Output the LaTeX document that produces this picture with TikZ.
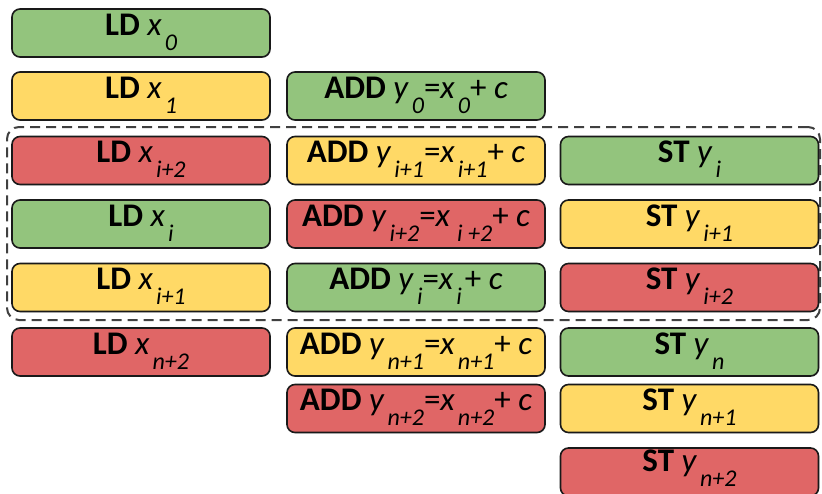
\documentclass[tikz,border=0pt]{standalone}
\usepackage{fontspec}
\setmainfont{Carlito}
\usetikzlibrary{shadows}
\definecolor{cgreen}{HTML}{93C47D}
\definecolor{cyellow}{HTML}{FFD966}
\definecolor{cred}{HTML}{E06666}
\newcommand{\vs}[2]{\textit{#1}\kern3pt\raisebox{-15pt}{\fontsize{24}{24}\selectfont\itshape #2}}
\tikzset{
  instr/.style={draw=black!90, line width=1.6pt, rounded corners=8pt,
    minimum width=258pt, text height=26pt, text depth=22pt,
    inner ysep=0pt, inner xsep=0pt, font=\fontsize{33}{40}\selectfont,
    drop shadow={opacity=0.25, shadow xshift=0.8pt, shadow yshift=-0.8pt}},
  grn/.style={instr, fill=cgreen},
  ylw/.style={instr, fill=cyellow},
  rd/.style={instr, fill=cred},
  grp/.style={draw=black!75, line width=2pt, dash pattern=on 10pt off 6pt,
    rounded corners=12pt, minimum width=813pt, minimum height=193pt, inner sep=0pt}
}
\begin{document}
\begin{tikzpicture}[x=1pt,y=-1pt]
\useasboundingbox (0,0) rectangle (822,493);
\clip (0,0) rectangle (822,493);
% column 1
\node[grn] (ld0) at (141,33) {\textbf{LD} \vs{x}{0}};
\node[ylw] (ld1) at (141,96) {\textbf{LD} \vs{x}{1}};
\node[rd]  (ld2) at (141,160.5) {\textbf{LD} \vs{x}{i+2}};
\node[grn] (ld3) at (141,224) {\textbf{LD} \vs{x}{i}};
\node[ylw] (ld4) at (141,287.5) {\textbf{LD} \vs{x}{i+1}};
\node[rd]  (ld5) at (141,352) {\textbf{LD} \vs{x}{n+2}};
% column 2
\node[grn] (add1) at (416,96) {\textbf{ADD} \vs{y}{0}=\vs{x}{0}+ \textit{c}};
\node[ylw] (add2) at (416,160.5) {\textbf{ADD} \vs{y}{i+1}=\vs{x}{i+1}+ \textit{c}};
\node[rd]  (add3) at (416,224) {\textbf{ADD} \vs{y}{i+2}=\vs{x}{\,i +2}+ \textit{c}};
\node[grn] (add4) at (416,287.5) {\textbf{ADD} \vs{y}{i}=\vs{x}{i}\kern3pt+ \textit{c}};
\node[ylw] (add5) at (416,352) {\textbf{ADD} \vs{y}{n+1}=\vs{x}{n+1}+ \textit{c}};
\node[rd]  (add6) at (416,408.5) {\textbf{ADD} \vs{y}{n+2}=\vs{x}{n+2}+ \textit{c}};
% column 3
\node[grn] (st2) at (689.5,160.5) {\textbf{ST} \vs{y}{i}};
\node[ylw] (st3) at (689.5,224) {\textbf{ST} \vs{y}{i+1}};
\node[rd]  (st4) at (689.5,287.5) {\textbf{ST} \vs{y}{i+2}};
\node[grn] (st5) at (689.5,352) {\textbf{ST} \vs{y}{n}};
\node[ylw] (st6) at (689.5,408.5) {\textbf{ST} \vs{y}{n+1}};
\node[rd, text height=23pt, text depth=25pt]  (st7) at (689.5,472) {\textbf{ST} \vs{y}{n+2}};
% steady-state group
\node[grp] (loop) at (413.5,223.5) {};
\end{tikzpicture}
\end{document}
